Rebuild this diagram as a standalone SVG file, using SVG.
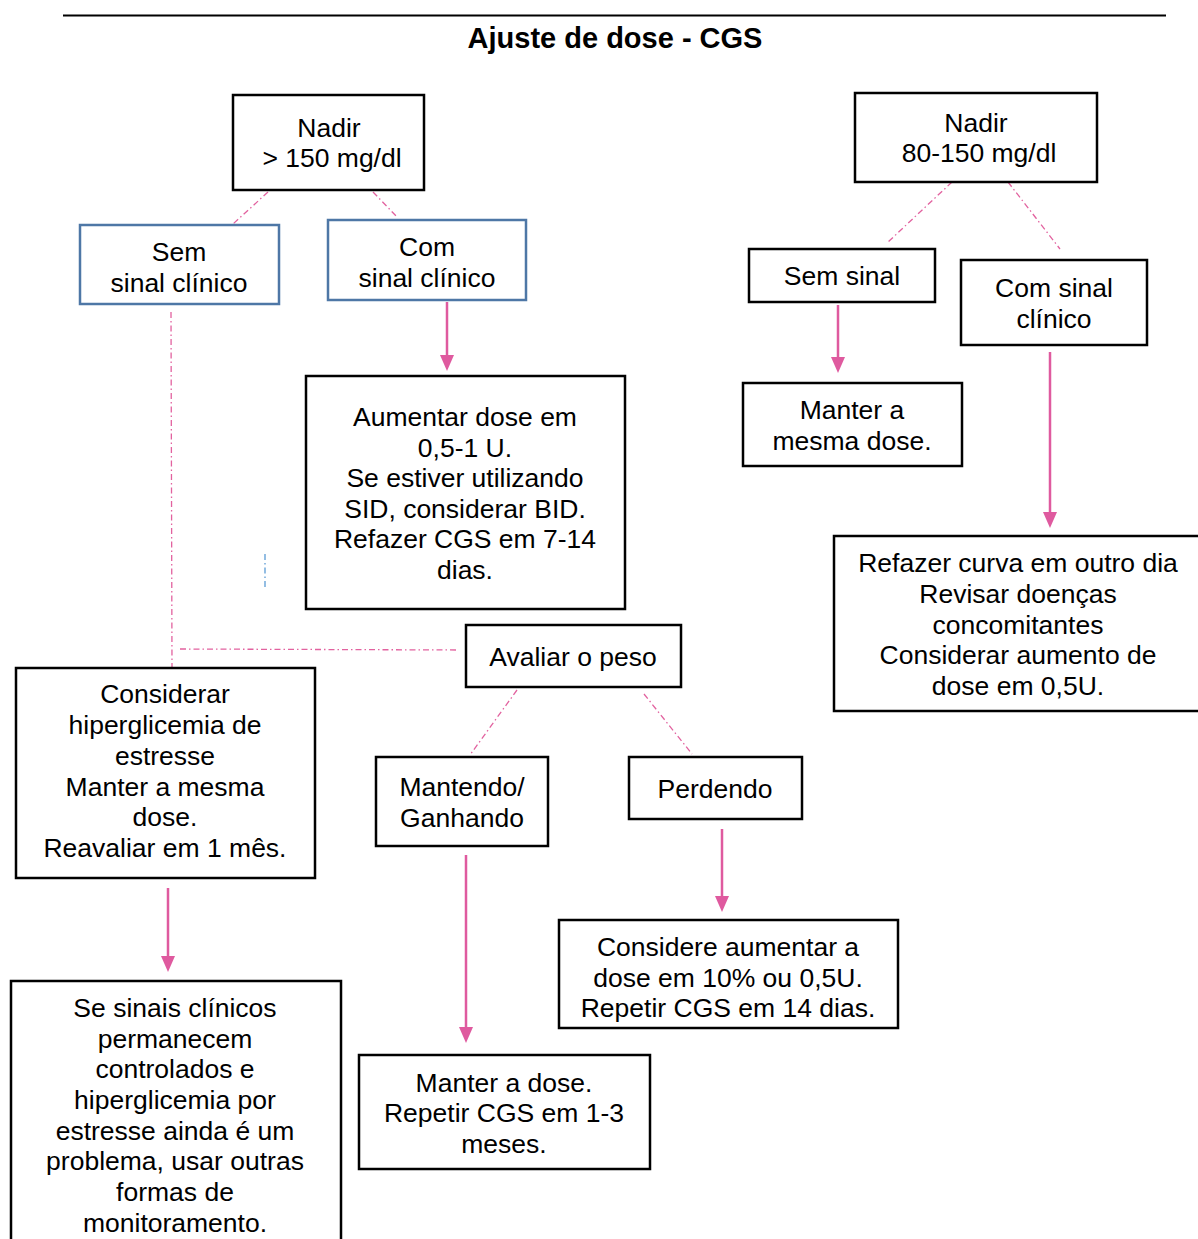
<svg xmlns="http://www.w3.org/2000/svg" width="1198" height="1239" viewBox="0 0 1198 1239">
<defs>
<marker id="ah" viewBox="0 0 14 16" refX="7" refY="16" markerWidth="14" markerHeight="16" markerUnits="userSpaceOnUse" orient="auto-start-reverse">
<path d="M0,0 L14,0 L7,16 Z" fill="#df5a9f" transform="rotate(-90 7 8) translate(0 0)"/>
</marker>
<style>
.box{fill:#fff;stroke:#000;stroke-width:2.5}
.bbox{fill:#fff;stroke:#4e77a6;stroke-width:2.5}
text{font-family:"Liberation Sans",Arial,sans-serif;font-size:26.5px;fill:#000;text-anchor:middle}
.arr{stroke:#df5a9f;stroke-width:2.5;fill:none}
.ah{fill:#df5a9f}
.dd{stroke:#e2629f;stroke-width:1.3;fill:none;stroke-dasharray:6 3 1.5 3}
.db{stroke:#5b9bd5;stroke-width:1.3;fill:none;stroke-dasharray:6 3 1.5 3}
</style>
</defs>
<rect width="1198" height="1239" fill="#fff"/>
<line x1="63" y1="15.5" x2="1166" y2="15.5" stroke="#000" stroke-width="2"/>
<text x="615" y="48" style="font-weight:bold;font-size:29px">Ajuste de dose - CGS</text>

<g id="connectors">
<line class="dd" x1="268" y1="192" x2="233" y2="224"/>
<line class="dd" x1="373" y1="192" x2="398" y2="218"/>
<line class="dd" x1="952" y1="182" x2="887" y2="243"/>
<line class="dd" x1="1008" y1="182" x2="1060" y2="249"/>
<line class="dd" x1="171" y1="312" x2="172" y2="667"/>
<line class="dd" x1="180" y1="649" x2="459" y2="650"/>
<line class="dd" x1="517" y1="690" x2="470" y2="755"/>
<line class="dd" x1="644" y1="694" x2="692" y2="754"/>
<line class="db" x1="265" y1="554" x2="265" y2="587"/>
<line class="arr" x1="447" y1="302" x2="447" y2="356"/>
<path class="ah" d="M440,355 L454,355 L447,371 Z"/>
<line class="arr" x1="838" y1="305" x2="838" y2="358"/>
<path class="ah" d="M831,357 L845,357 L838,373 Z"/>
<line class="arr" x1="1050" y1="352" x2="1050" y2="513"/>
<path class="ah" d="M1043,512 L1057,512 L1050,528 Z"/>
<line class="arr" x1="168" y1="888" x2="168" y2="957"/>
<path class="ah" d="M161,956 L175,956 L168,972 Z"/>
<line class="arr" x1="466" y1="855" x2="466" y2="1028"/>
<path class="ah" d="M459,1027 L473,1027 L466,1043 Z"/>
<line class="arr" x1="722" y1="829" x2="722" y2="897"/>
<path class="ah" d="M715,896 L729,896 L722,912 Z"/>
</g>

<g id="nadir150">
<rect class="box" x="233" y="95" width="191" height="95"/>
<text x="329" y="137">Nadir</text>
<text x="332" y="167">&gt; 150 mg/dl</text>
</g>
<g id="nadir80">
<rect class="box" x="855" y="93" width="242" height="89"/>
<text x="976" y="132">Nadir</text>
<text x="979" y="162">80-150 mg/dl</text>
</g>
<g id="sem-sinal-clinico">
<rect class="bbox" x="80" y="225" width="199" height="79"/>
<text x="179" y="261">Sem</text>
<text x="179" y="292">sinal clínico</text>
</g>
<g id="com-sinal-clinico">
<rect class="bbox" x="328" y="220" width="198" height="80"/>
<text x="427" y="256">Com</text>
<text x="427" y="287">sinal clínico</text>
</g>
<g id="aumentar">
<rect class="box" x="306" y="376" width="319" height="233"/>
<text x="465" y="426">Aumentar dose em</text>
<text x="465" y="457">0,5-1 U.</text>
<text x="465" y="487">Se estiver utilizando</text>
<text x="465" y="518">SID, considerar BID.</text>
<text x="465" y="548">Refazer CGS em 7-14</text>
<text x="465" y="579">dias.</text>
</g>
<g id="sem-sinal">
<rect class="box" x="749" y="249" width="186" height="53"/>
<text x="842" y="285">Sem sinal</text>
</g>
<g id="com-sinal">
<rect class="box" x="961" y="260" width="186" height="85"/>
<text x="1054" y="297">Com sinal</text>
<text x="1054" y="328">clínico</text>
</g>
<g id="manter-mesma">
<rect class="box" x="743" y="383" width="219" height="83"/>
<text x="852" y="419">Manter a</text>
<text x="852" y="450">mesma dose.</text>
</g>
<g id="refazer">
<rect class="box" x="834" y="536" width="370" height="175"/>
<text x="1018" y="572">Refazer curva em outro dia</text>
<text x="1018" y="603">Revisar doenças</text>
<text x="1018" y="634">concomitantes</text>
<text x="1018" y="664">Considerar aumento de</text>
<text x="1018" y="695">dose em 0,5U.</text>
</g>
<g id="avaliar">
<rect class="box" x="466" y="625" width="215" height="62"/>
<text x="573" y="666">Avaliar o peso</text>
</g>
<g id="considerar">
<rect class="box" x="16" y="668" width="299" height="210"/>
<text x="165" y="703">Considerar</text>
<text x="165" y="734">hiperglicemia de</text>
<text x="165" y="765">estresse</text>
<text x="165" y="796">Manter a mesma</text>
<text x="165" y="826">dose.</text>
<text x="165" y="857">Reavaliar em 1 mês.</text>
</g>
<g id="se-sinais">
<rect class="box" x="11" y="981" width="330" height="270"/>
<text x="175" y="1017">Se sinais clínicos</text>
<text x="175" y="1048">permanecem</text>
<text x="175" y="1078">controlados e</text>
<text x="175" y="1109">hiperglicemia por</text>
<text x="175" y="1140">estresse ainda é um</text>
<text x="175" y="1170">problema, usar outras</text>
<text x="175" y="1201">formas de</text>
<text x="175" y="1232">monitoramento.</text>
</g>
<g id="mantendo">
<rect class="box" x="376" y="757" width="172" height="89"/>
<text x="462" y="796">Mantendo/</text>
<text x="462" y="827">Ganhando</text>
</g>
<g id="perdendo">
<rect class="box" x="629" y="757" width="173" height="62"/>
<text x="715" y="798">Perdendo</text>
</g>
<g id="considere">
<rect class="box" x="559" y="920" width="339" height="108"/>
<text x="728" y="956">Considere aumentar a</text>
<text x="728" y="987">dose em 10% ou 0,5U.</text>
<text x="728" y="1017">Repetir CGS em 14 dias.</text>
</g>
<g id="manter-dose">
<rect class="box" x="359" y="1055" width="291" height="114"/>
<text x="504" y="1092">Manter a dose.</text>
<text x="504" y="1122">Repetir CGS em 1-3</text>
<text x="504" y="1153">meses.</text>
</g>
</svg>
